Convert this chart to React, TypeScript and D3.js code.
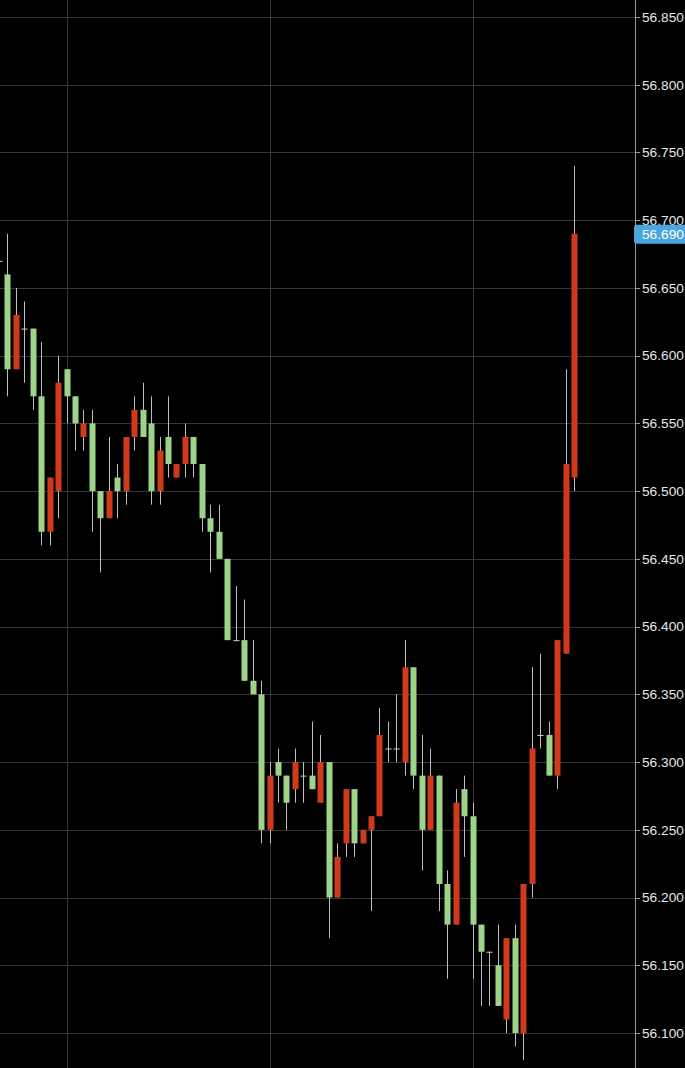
import * as d3 from "d3";
import React from "react";

// OHLC per bar, oldest first (first bar is cut by the left edge)
const opens = [
  56.67, 56.66, 56.59, 56.62, 56.62, 56.57, 56.47, 56.5, 56.59, 56.57, 56.54, 56.55, 56.5, 56.48, 56.51, 56.5, 56.54,
  56.56, 56.55, 56.5, 56.54, 56.51, 56.52, 56.54, 56.52, 56.48, 56.47, 56.45, 56.39, 56.39, 56.36, 56.35, 56.25, 56.3,
  56.29, 56.28, 56.29, 56.29, 56.27, 56.3, 56.2, 56.24, 56.28, 56.24, 56.25, 56.26, 56.31, 56.31, 56.3, 56.37, 56.29,
  56.25, 56.29, 56.21, 56.18, 56.28, 56.26, 56.18, 56.16, 56.15, 56.11, 56.17, 56.1, 56.21, 56.32, 56.32, 56.29, 56.38,
  56.51,
];
const highs = [
  56.67, 56.69, 56.65, 56.64, 56.62, 56.61, 56.51, 56.6, 56.59, 56.57, 56.56, 56.56, 56.5, 56.54, 56.52, 56.54, 56.57,
  56.58, 56.57, 56.54, 56.57, 56.52, 56.55, 56.54, 56.52, 56.49, 56.49, 56.45, 56.43, 56.42, 56.39, 56.36, 56.3, 56.31,
  56.29, 56.31, 56.3, 56.33, 56.32, 56.3, 56.24, 56.28, 56.28, 56.25, 56.26, 56.34, 56.33, 56.35, 56.39, 56.37, 56.32,
  56.31, 56.29, 56.22, 56.28, 56.29, 56.27, 56.18, 56.16, 56.18, 56.17, 56.18, 56.21, 56.37, 56.38, 56.33, 56.39, 56.59,
  56.74,
];
const lows = [
  56.67, 56.57, 56.59, 56.58, 56.56, 56.46, 56.46, 56.48, 56.55, 56.53, 56.53, 56.47, 56.44, 56.48, 56.48, 56.49, 56.53,
  56.54, 56.49, 56.49, 56.51, 56.51, 56.51, 56.51, 56.47, 56.44, 56.45, 56.39, 56.39, 56.36, 56.35, 56.24, 56.24, 56.27,
  56.25, 56.27, 56.27, 56.28, 56.27, 56.17, 56.2, 56.23, 56.23, 56.24, 56.19, 56.26, 56.3, 56.3, 56.29, 56.28, 56.22,
  56.25, 56.19, 56.14, 56.18, 56.23, 56.14, 56.12, 56.12, 56.12, 56.1, 56.09, 56.08, 56.2, 56.31, 56.29, 56.28, 56.38,
  56.5,
];
const closes = [
  56.67, 56.59, 56.63, 56.62, 56.57, 56.47, 56.51, 56.58, 56.57, 56.55, 56.55, 56.5, 56.48, 56.5, 56.5, 56.54, 56.56,
  56.54, 56.5, 56.53, 56.52, 56.52, 56.54, 56.52, 56.48, 56.47, 56.45, 56.39, 56.39, 56.36, 56.35, 56.25, 56.29, 56.29,
  56.27, 56.3, 56.29, 56.28, 56.3, 56.2, 56.23, 56.28, 56.24, 56.25, 56.26, 56.32, 56.31, 56.31, 56.37, 56.29, 56.25,
  56.29, 56.21, 56.18, 56.27, 56.26, 56.18, 56.16, 56.16, 56.12, 56.17, 56.1, 56.21, 56.31, 56.32, 56.29, 56.39, 56.52,
  56.69,
];
// bars where the vertical grid lines fall
const gridBars = [8, 32, 56];
const priceTicks = d3.range(56.1, 56.851, 0.05);
const lastPrice = 56.69;

const W = 685;
const H = 1068;
const axisX = 635;

export default function App() {
  const n = opens.length;
  const x = d3.scaleLinear().domain([0, n - 1]).range([-1.16, 574]);
  const y = d3.scaleLinear().domain([56.1, 56.85]).range([1033, 17]);
  const bodyW = 6;

  return (
    <svg
      width={W}
      height={H}
      style={{ position: "fixed", left: 0, top: 0, background: "#000" }}
      fontFamily="'Liberation Sans', Arial, sans-serif"
    >
      <rect width={W} height={H} fill="#000" />
      {/* grid */}
      {priceTicks.map((t) => (
        <line key={"h" + t} x1={0} x2={axisX + 4} y1={Math.round(y(t)) + 0.5} y2={Math.round(y(t)) + 0.5} stroke="#363636" />
      ))}
      {gridBars.map((b) => (
        <line key={"v" + b} x1={Math.round(x(b)) + 0.5} x2={Math.round(x(b)) + 0.5} y1={0} y2={H} stroke="#383838" />
      ))}

      {/* candles */}
      {opens.map((o, i) => {
        const c = closes[i];
        const cx = Math.round(x(i)) + 0.5;
        const doji = Math.abs(c - o) < 1e-9;
        const up = c > o;
        const fill = doji ? "#cfcfcf" : up ? "#d03a1a" : "#9ed48a";
        const top = y(Math.max(o, c));
        const h = Math.max(1, Math.abs(y(o) - y(c)));
        return (
          <g key={i}>
            <line x1={cx} x2={cx} y1={y(highs[i])} y2={y(lows[i])} stroke="#bdbdbd" strokeWidth={1} />
            <rect x={cx - bodyW / 2} y={top} width={bodyW} height={h} fill={fill} />
          </g>
        );
      })}

      {/* right price axis */}
      <line x1={axisX + 0.5} x2={axisX + 0.5} y1={0} y2={H} stroke="#999" />
      {priceTicks.map((t) => (
        <g key={"t" + t}>
          <line x1={axisX} x2={axisX + 5} y1={Math.round(y(t)) + 0.5} y2={Math.round(y(t)) + 0.5} stroke="#999" />
          <text x={axisX + 7} y={y(t)} dy="0.35em" fontSize={13.7} fill="#e6e6e6">
            {t.toFixed(3)}
          </text>
        </g>
      ))}
      <rect x={axisX - 1} y={y(lastPrice) - 9} width={60} height={19} rx={3} fill="#4aa6de" />
      <text x={axisX + 7} y={y(lastPrice)} dy="0.35em" fontSize={13.7} fill="#fff">
        {lastPrice.toFixed(3)}
      </text>
    </svg>
  );
}
